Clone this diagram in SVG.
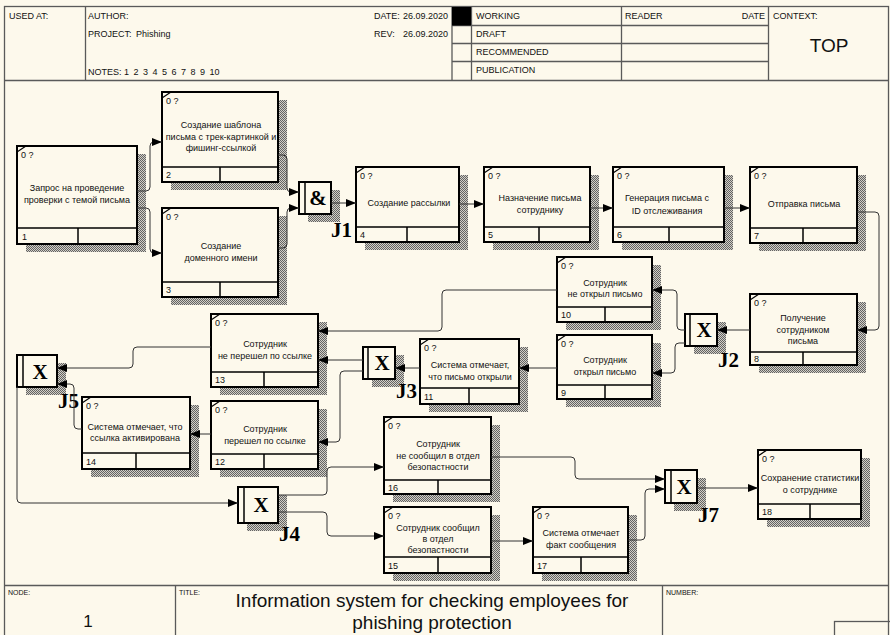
<svg xmlns="http://www.w3.org/2000/svg" width="890" height="635" viewBox="0 0 890 635">
<defs>
<pattern id="hatch" width="2" height="2" patternUnits="userSpaceOnUse">
<rect width="2" height="2" fill="#d2cfc6"/>
<rect width="1" height="1" fill="#636363"/>
<rect x="1" y="1" width="1" height="1" fill="#636363"/>
</pattern>
<marker id="ah" markerWidth="10" markerHeight="8" refX="10" refY="4" orient="auto" markerUnits="userSpaceOnUse">
<path d="M0,0 L10,4 L0,8 z" fill="#000"/>
</marker>
<style>
.t{font-family:"Liberation Sans",Arial,sans-serif;font-size:9px;fill:#111}
.s{font-family:"Liberation Sans",Arial,sans-serif;font-size:7px;fill:#111}
.c{text-anchor:middle}
.sh{fill:url(#hatch)}
.bx{fill:#fdf9ec;stroke:#000;stroke-width:2}
.ln{stroke:#000;stroke-width:1.5;fill:none}
.sl{stroke:#000;stroke-width:1.2}
.jl{font-family:"Liberation Serif","Times New Roman",serif;font-weight:bold;font-size:21px;fill:#000}
.js{font-family:"Liberation Serif","Times New Roman",serif;font-weight:bold;font-size:21px;fill:#000;text-anchor:middle}
.fr{stroke:#5a5a5a;stroke-width:1.3;fill:none}
.conn{fill:none;stroke:#333;stroke-width:1;marker-end:url(#ah)}
</style>
</defs>
<rect width="890" height="635" fill="#fdf9ec"/>

<g id="frame">
<rect x="4.5" y="6.5" width="884" height="640" class="fr" stroke-width="1.6"/>
<line x1="4" y1="80.5" x2="889" y2="80.5" class="fr" stroke-width="2"/>
<line x1="85.5" y1="7" x2="85.5" y2="80" class="fr"/>
<line x1="452" y1="7" x2="452" y2="80" class="fr"/>
<line x1="471.5" y1="7" x2="471.5" y2="80" class="fr" stroke-width="1.8"/>
<line x1="621.5" y1="7" x2="621.5" y2="80" class="fr"/>
<line x1="768.5" y1="7" x2="768.5" y2="80" class="fr"/>
<line x1="452" y1="25.5" x2="768" y2="25.5" class="fr"/>
<line x1="452" y1="43.5" x2="768" y2="43.5" class="fr"/>
<line x1="452" y1="61.5" x2="768" y2="61.5" class="fr"/>
<rect x="452" y="7" width="19" height="18.5" fill="#000"/>
<text class="t" x="9" y="19">USED AT:</text>
<text class="t" x="88" y="19">AUTHOR:</text>
<text class="t" x="88" y="37">PROJECT:</text>
<text class="t" x="136" y="37">Phishing</text>
<text class="t" x="88" y="75">NOTES:</text>
<text class="t" y="75"><tspan x="124">1</tspan><tspan x="133.5">2</tspan><tspan x="143">3</tspan><tspan x="152.5">4</tspan><tspan x="162">5</tspan><tspan x="171.5">6</tspan><tspan x="181">7</tspan><tspan x="190.5">8</tspan><tspan x="200">9</tspan><tspan x="209.5">10</tspan></text>
<text class="t" x="374" y="19">DATE:</text>
<text class="t" x="403" y="19">26.09.2020</text>
<text class="t" x="374" y="37">REV:</text>
<text class="t" x="403" y="37">26.09.2020</text>
<text class="t" x="476" y="19">WORKING</text>
<text class="t" x="476" y="37">DRAFT</text>
<text class="t" x="476" y="55">RECOMMENDED</text>
<text class="t" x="476" y="73">PUBLICATION</text>
<text class="t" x="625" y="19">READER</text>
<text class="t" x="765" y="19" text-anchor="end">DATE</text>
<text class="t" x="773" y="19">CONTEXT:</text>
<text class="t c" x="829" y="52" style="font-size:19px">TOP</text>
<line x1="4" y1="585.5" x2="889" y2="585.5" class="fr" stroke-width="2"/>
<line x1="175.5" y1="585" x2="175.5" y2="635" class="fr"/>
<line x1="662.5" y1="585" x2="662.5" y2="635" class="fr"/>
<text class="s" x="8" y="595">NODE:</text>
<text class="s" x="179" y="595">TITLE:</text>
<text class="s" x="666" y="595">NUMBER:</text>
<text class="t c" x="88" y="627" style="font-size:17px">1</text>
<text class="t c" x="432" y="607" style="font-size:19px">Information system for checking employees for</text>
<text class="t c" x="432" y="629" style="font-size:19px">phishing protection</text>
<rect x="834.5" y="621.5" width="60" height="20" class="fr"/>
</g>

<g id="node1">
<rect class="sh" x="26" y="154" width="120" height="98"/>
<rect class="bx" x="17" y="146" width="120" height="98"/>
<line class="ln" x1="17" y1="228" x2="137" y2="228"/><line class="ln" x1="78" y1="228" x2="78" y2="244"/>
<line class="sl" x1="17" y1="152" x2="26" y2="146"/>
<text class="t" x="21" y="158">0 ?</text>
<text class="t" x="22" y="240">1</text>
<text class="t c" x="77" y="191">Запрос на проведение</text>
<text class="t c" x="77" y="203">проверки с темой письма</text>
</g>

<g id="node2">
<rect class="sh" x="171" y="100" width="116" height="90"/>
<rect class="bx" x="162" y="92" width="116" height="90"/>
<line class="ln" x1="162" y1="167" x2="278" y2="167"/><line class="ln" x1="220" y1="167" x2="220" y2="182"/>
<line class="sl" x1="162" y1="98" x2="171" y2="92"/>
<text class="t" x="166" y="104">0 ?</text>
<text class="t" x="166" y="178">2</text>
<text class="t c" x="221" y="128">Создание шаблона</text>
<text class="t c" x="221" y="140">письма с трек-картинкой и</text>
<text class="t c" x="221" y="151">фишинг-ссылкой</text>
</g>

<g id="node3">
<rect class="sh" x="171" y="216" width="116" height="89"/>
<rect class="bx" x="162" y="208" width="116" height="89"/>
<line class="ln" x1="162" y1="282" x2="278" y2="282"/><line class="ln" x1="220" y1="282" x2="220" y2="297"/>
<line class="sl" x1="162" y1="214" x2="171" y2="208"/>
<text class="t" x="166" y="220">0 ?</text>
<text class="t" x="166" y="293">3</text>
<text class="t c" x="221" y="249">Создание</text>
<text class="t c" x="221" y="261">доменного имени</text>
</g>

<g id="node4">
<rect class="sh" x="365" y="175" width="103" height="75"/>
<rect class="bx" x="356" y="167" width="103" height="75"/>
<line class="ln" x1="356" y1="227" x2="459" y2="227"/><line class="ln" x1="407" y1="227" x2="407" y2="242"/>
<line class="sl" x1="356" y1="173" x2="365" y2="167"/>
<text class="t" x="360" y="179">0 ?</text>
<text class="t" x="360" y="238">4</text>
<text class="t c" x="409" y="206">Создание рассылки</text>
</g>

<g id="node5">
<rect class="sh" x="493" y="175" width="106" height="75"/>
<rect class="bx" x="484" y="167" width="106" height="75"/>
<line class="ln" x1="484" y1="227" x2="590" y2="227"/><line class="ln" x1="539" y1="227" x2="539" y2="242"/>
<line class="sl" x1="484" y1="173" x2="493" y2="167"/>
<text class="t" x="488" y="179">0 ?</text>
<text class="t" x="488" y="238">5</text>
<text class="t c" x="540" y="201">Назначение письма</text>
<text class="t c" x="540" y="213">сотруднику</text>
</g>

<g id="node6">
<rect class="sh" x="622" y="175" width="111" height="75"/>
<rect class="bx" x="613" y="167" width="111" height="75"/>
<line class="ln" x1="613" y1="227" x2="724" y2="227"/><line class="ln" x1="669" y1="227" x2="669" y2="242"/>
<line class="sl" x1="613" y1="173" x2="622" y2="167"/>
<text class="t" x="617" y="179">0 ?</text>
<text class="t" x="617" y="238">6</text>
<text class="t c" x="667" y="201">Генерация письма с</text>
<text class="t c" x="667" y="214">ID отслеживания</text>
</g>

<g id="node7">
<rect class="sh" x="759" y="175" width="107" height="76"/>
<rect class="bx" x="750" y="167" width="107" height="76"/>
<line class="ln" x1="750" y1="228" x2="857" y2="228"/><line class="ln" x1="803" y1="228" x2="803" y2="243"/>
<line class="sl" x1="750" y1="173" x2="759" y2="167"/>
<text class="t" x="754" y="179">0 ?</text>
<text class="t" x="754" y="239">7</text>
<text class="t c" x="804" y="207">Отправка письма</text>
</g>

<g id="node8">
<rect class="sh" x="759" y="302" width="107" height="71"/>
<rect class="bx" x="750" y="294" width="107" height="71"/>
<line class="ln" x1="750" y1="352" x2="857" y2="352"/><line class="ln" x1="803" y1="352" x2="803" y2="365"/>
<line class="sl" x1="750" y1="300" x2="759" y2="294"/>
<text class="t" x="754" y="306">0 ?</text>
<text class="t" x="754" y="362">8</text>
<text class="t c" x="803" y="321">Получение</text>
<text class="t c" x="803" y="333">сотрудником</text>
<text class="t c" x="803" y="344">письма</text>
</g>

<g id="node10">
<rect class="sh" x="566" y="265" width="95" height="65"/>
<rect class="bx" x="557" y="257" width="95" height="65"/>
<line class="ln" x1="557" y1="307" x2="652" y2="307"/><line class="ln" x1="605" y1="307" x2="605" y2="322"/>
<line class="sl" x1="557" y1="263" x2="566" y2="257"/>
<text class="t" x="561" y="269">0 ?</text>
<text class="t" x="561" y="318">10</text>
<text class="t c" x="605" y="286">Сотрудник</text>
<text class="t c" x="605" y="297">не открыл письмо</text>
</g>

<g id="node9">
<rect class="sh" x="566" y="343" width="95" height="64"/>
<rect class="bx" x="557" y="335" width="95" height="64"/>
<line class="ln" x1="557" y1="385" x2="652" y2="385"/><line class="ln" x1="605" y1="385" x2="605" y2="399"/>
<line class="sl" x1="557" y1="341" x2="566" y2="335"/>
<text class="t" x="561" y="347">0 ?</text>
<text class="t" x="561" y="396">9</text>
<text class="t c" x="605" y="363">Сотрудник</text>
<text class="t c" x="605" y="375">открыл письмо</text>
</g>

<g id="node11">
<rect class="sh" x="429" y="347" width="99" height="65"/>
<rect class="bx" x="420" y="339" width="99" height="65"/>
<line class="ln" x1="420" y1="388" x2="519" y2="388"/><line class="ln" x1="469" y1="388" x2="469" y2="404"/>
<line class="sl" x1="420" y1="345" x2="429" y2="339"/>
<text class="t" x="424" y="351">0 ?</text>
<text class="t" x="424" y="400">11</text>
<text class="t c" x="470" y="368">Система отмечает,</text>
<text class="t c" x="470" y="380">что письмо открыли</text>
</g>

<g id="node13">
<rect class="sh" x="220" y="322" width="107" height="73"/>
<rect class="bx" x="211" y="314" width="107" height="73"/>
<line class="ln" x1="211" y1="372" x2="318" y2="372"/><line class="ln" x1="264" y1="372" x2="264" y2="387"/>
<line class="sl" x1="211" y1="320" x2="220" y2="314"/>
<text class="t" x="215" y="326">0 ?</text>
<text class="t" x="215" y="383">13</text>
<text class="t c" x="265" y="347">Сотрудник</text>
<text class="t c" x="265" y="359">не перешел по ссылке</text>
</g>

<g id="node12">
<rect class="sh" x="220" y="409" width="107" height="68"/>
<rect class="bx" x="211" y="401" width="107" height="68"/>
<line class="ln" x1="211" y1="454" x2="318" y2="454"/><line class="ln" x1="264" y1="454" x2="264" y2="469"/>
<line class="sl" x1="211" y1="407" x2="220" y2="401"/>
<text class="t" x="215" y="413">0 ?</text>
<text class="t" x="215" y="465">12</text>
<text class="t c" x="265" y="432">Сотрудник</text>
<text class="t c" x="265" y="444">перешел по ссылке</text>
</g>

<g id="node14">
<rect class="sh" x="91" y="405" width="108" height="72"/>
<rect class="bx" x="82" y="397" width="108" height="72"/>
<line class="ln" x1="82" y1="453" x2="190" y2="453"/><line class="ln" x1="136" y1="453" x2="136" y2="469"/>
<line class="sl" x1="82" y1="403" x2="91" y2="397"/>
<text class="t" x="86" y="409">0 ?</text>
<text class="t" x="86" y="465">14</text>
<text class="t c" x="135" y="430">Система отмечает, что</text>
<text class="t c" x="135" y="441">ссылка активирована</text>
</g>

<g id="node16">
<rect class="sh" x="393" y="425" width="107" height="77"/>
<rect class="bx" x="384" y="417" width="107" height="77"/>
<line class="ln" x1="384" y1="480" x2="491" y2="480"/><line class="ln" x1="438" y1="480" x2="438" y2="494"/>
<line class="sl" x1="384" y1="423" x2="393" y2="417"/>
<text class="t" x="388" y="429">0 ?</text>
<text class="t" x="388" y="491">16</text>
<text class="t c" x="438" y="447">Сотрудник</text>
<text class="t c" x="438" y="459">не сообщил в отдел</text>
<text class="t c" x="438" y="470">безопастности</text>
</g>

<g id="node15">
<rect class="sh" x="393" y="515" width="107" height="66"/>
<rect class="bx" x="384" y="507" width="107" height="66"/>
<line class="ln" x1="384" y1="557" x2="491" y2="557"/><line class="ln" x1="438" y1="557" x2="438" y2="573"/>
<line class="sl" x1="384" y1="513" x2="393" y2="507"/>
<text class="t" x="388" y="519">0 ?</text>
<text class="t" x="388" y="569">15</text>
<text class="t c" x="438" y="531">Сотрудник сообщил</text>
<text class="t c" x="438" y="542">в отдел</text>
<text class="t c" x="438" y="553">безопастности</text>
</g>

<g id="node17">
<rect class="sh" x="542" y="515" width="95" height="66"/>
<rect class="bx" x="533" y="507" width="95" height="66"/>
<line class="ln" x1="533" y1="557" x2="628" y2="557"/><line class="ln" x1="581" y1="557" x2="581" y2="573"/>
<line class="sl" x1="533" y1="513" x2="542" y2="507"/>
<text class="t" x="537" y="519">0 ?</text>
<text class="t" x="537" y="569">17</text>
<text class="t c" x="581" y="536">Система отмечает</text>
<text class="t c" x="581" y="548">факт сообщения</text>
</g>

<g id="node18">
<rect class="sh" x="767" y="458" width="103" height="69"/>
<rect class="bx" x="758" y="450" width="103" height="69"/>
<line class="ln" x1="758" y1="504" x2="861" y2="504"/><line class="ln" x1="810" y1="504" x2="810" y2="519"/>
<line class="sl" x1="758" y1="456" x2="767" y2="450"/>
<text class="t" x="762" y="462">0 ?</text>
<text class="t" x="762" y="515">18</text>
<text class="t c" x="810" y="481">Сохранение статистики</text>
<text class="t c" x="810" y="493">о сотруднике</text>
</g>

<g id="J1">
<rect class="sh" x="308" y="190" width="32" height="32"/>
<rect class="bx" x="299" y="182" width="32" height="32"/>
<line class="ln" x1="305" y1="182" x2="305" y2="214"/>
<text class="js" x="318" y="205">&amp;</text>
<text class="jl" x="331" y="237">J1</text>
</g>
<g id="J2">
<rect class="sh" x="694" y="322" width="32" height="32"/>
<rect class="bx" x="685" y="314" width="32" height="32"/>
<line class="ln" x1="690" y1="314" x2="690" y2="346"/>
<text class="js" x="704" y="337">X</text>
<text class="jl" x="718" y="367">J2</text>
</g>
<g id="J3">
<rect class="sh" x="372" y="355" width="32" height="32"/>
<rect class="bx" x="363" y="347" width="32" height="32"/>
<line class="ln" x1="368" y1="347" x2="368" y2="379"/>
<text class="js" x="382" y="370">X</text>
<text class="jl" x="396" y="398">J3</text>
</g>
<g id="J5">
<rect class="sh" x="26" y="363" width="40" height="32"/>
<rect class="bx" x="17" y="355" width="40" height="32"/>
<line class="ln" x1="23" y1="355" x2="23" y2="387"/>
<text class="js" x="40" y="379">X</text>
<text class="jl" x="58" y="408">J5</text>
</g>
<g id="J4">
<rect class="sh" x="247" y="495" width="40" height="36"/>
<rect class="bx" x="238" y="487" width="40" height="36"/>
<line class="ln" x1="244" y1="487" x2="244" y2="523"/>
<text class="js" x="261" y="512">X</text>
<text class="jl" x="279" y="541">J4</text>
</g>
<g id="J7">
<rect class="sh" x="674" y="478" width="32" height="33"/>
<rect class="bx" x="665" y="470" width="32" height="33"/>
<line class="ln" x1="671" y1="470" x2="671" y2="503"/>
<text class="js" x="684" y="494">X</text>
<text class="jl" x="698" y="522">J7</text>
</g>

<g id="connectors">
<path class="conn" d="M137,191 H146 Q150,191 150,187 V146 Q150,142 154,142 H162"/>
<path class="conn" d="M137,208 H146 Q150,208 150,212 V249 Q150,253 154,253 H162"/>
<path class="conn" d="M278,155 H283 Q287,155 287,159 V188 Q287,192 291,192 H299"/>
<path class="conn" d="M278,248 H283 Q287,248 287,244 V212 Q287,208 291,208 H299"/>
<path class="conn" d="M331,203 H356"/>
<path class="conn" d="M459,204 H484"/>
<path class="conn" d="M590,208 H613"/>
<path class="conn" d="M724,208 H750"/>
<path class="conn" d="M857,212 H875 Q879,212 879,216 V326 Q879,330 875,330 H857"/>
<path class="conn" d="M750,330 H717"/>
<path class="conn" d="M685,330 H681 Q677,330 677,326 V294 Q677,290 673,290 H652"/>
<path class="conn" d="M685,343 H679 Q675,343 675,347 V369 Q675,373 671,373 H652"/>
<path class="conn" d="M557,290 H446 Q442,290 442,294 V327 Q442,331 438,331 H318"/>
<path class="conn" d="M557,368 H519"/>
<path class="conn" d="M420,368 H395"/>
<path class="conn" d="M363,360 H318"/>
<path class="conn" d="M363,371 H344 Q340,371 340,375 V438 Q340,442 336,442 H318"/>
<path class="conn" d="M211,434 H190"/>
<path class="conn" d="M211,347 H137 Q133,347 133,351 V364 Q133,368 129,368 H57"/>
<path class="conn" d="M82,429 H78 Q74,429 74,425 V388 Q74,384 70,384 H57"/>
<path class="conn" d="M17,387 V499 Q17,503 21,503 H238"/>
<path class="conn" d="M278,495 H323 Q327,495 327,491 V471 Q327,467 331,467 H384"/>
<path class="conn" d="M278,512 H323 Q327,512 327,516 V532 Q327,536 331,536 H384"/>
<path class="conn" d="M491,541 H533"/>
<path class="conn" d="M491,457 H571 Q575,457 575,461 V475 Q575,479 579,479 H665"/>
<path class="conn" d="M628,540 H641 Q645,540 645,536 V493 Q645,489 649,489 H665"/>
<path class="conn" d="M697,488 H758"/>
</g>
</svg>
